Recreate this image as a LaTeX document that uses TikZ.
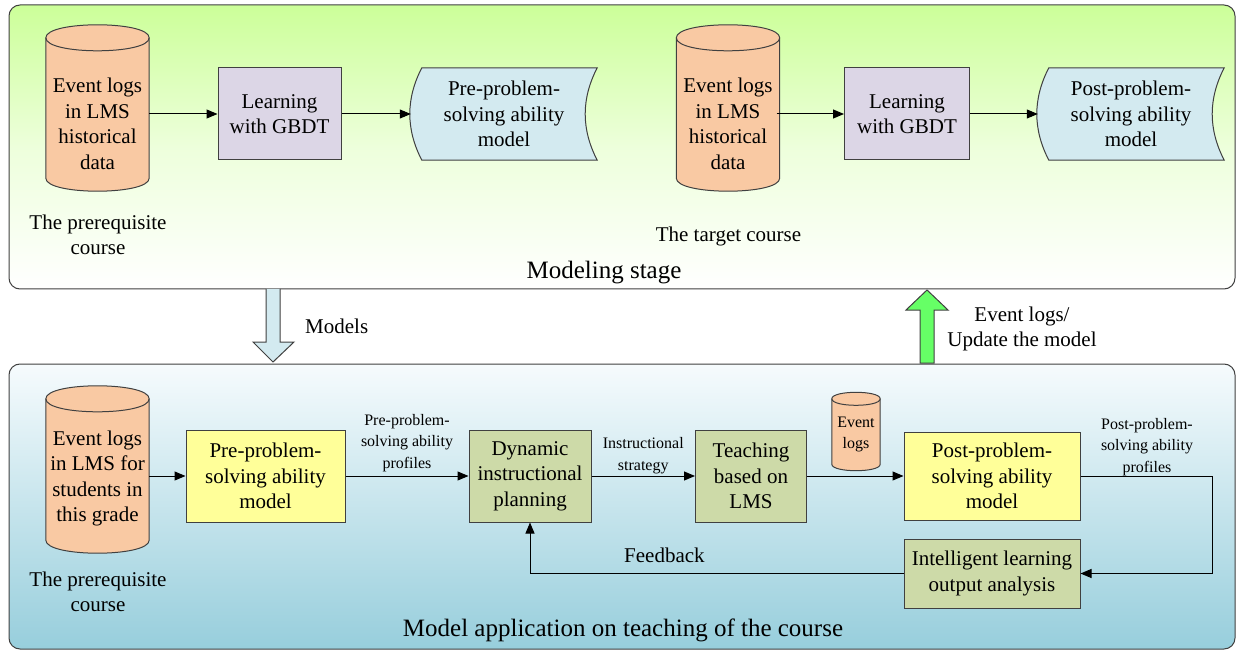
\documentclass[tikz,border=0pt]{standalone}
\usepackage{fontspec}
\setmainfont{Liberation Serif}
\usetikzlibrary{arrows.meta,calc}
\definecolor{stageGreen}{HTML}{CCFF99}
\definecolor{stageBlue}{HTML}{97CEDC}
\definecolor{stageBlueTop}{HTML}{F6FBFD}
\definecolor{logPeach}{HTML}{F9C9A3}
\definecolor{learnLilac}{HTML}{DCD6E6}
\definecolor{modelBlue}{HTML}{D3EAF0}
\definecolor{modelYellow}{HTML}{FFFF99}
\definecolor{stepGreen}{HTML}{CDDAA8}
\definecolor{modelsArrow}{HTML}{D3EAF0}
\definecolor{updateArrow}{HTML}{66FF66}
\definecolor{edge}{HTML}{404040}
\pgfdeclarelayer{panels}
\pgfdeclarelayer{shapes}
\pgfsetlayers{panels,shapes,main}
\tikzset{
  base/.style={font=\fontsize{21}{25.5}\selectfont, align=center, inner sep=0pt},
  small/.style={font=\fontsize{16}{21.5}\selectfont, align=center, inner sep=0pt},
  stagelabel/.style={font=\fontsize{25}{30}\selectfont, inner sep=0pt},
  plainbox/.style={base, draw=edge, line width=1pt},
  learnbox/.style={plainbox, fill=learnLilac},
  yellowbox/.style={plainbox, fill=modelYellow},
  greenbox/.style={plainbox, fill=stepGreen},
  textarea/.style={base},
  cylpath/.style={fill=logPeach, draw=edge, line width=1pt},
  storepath/.style={fill=modelBlue, draw=edge, line width=1pt},
  panel/.style={draw=edge, line width=1pt, rounded corners=11pt},
  flow/.style={-{Triangle[length=11pt,width=9pt]}, line width=1pt, draw=black},
  blockarrow/.style={draw=edge, line width=1pt},
}
% database cylinder behind a named node; #3 lifts the body above the text centre
\newcommand{\dbcylinder}[3]{%
  \begin{pgfonlayer}{shapes}
  \path[cylpath] ([yshift=#3]#1.north west) .. controls +(0,-#2*4/3) and +(0,-#2*4/3) .. ([yshift=#3]#1.north east)
    -- ([yshift=#3]#1.south east) .. controls +(0,#2*4/3) and +(0,#2*4/3) .. ([yshift=#3]#1.south west) -- cycle;
  \draw[edge, line width=1pt] ([yshift=#3]#1.north west) .. controls +(0,#2*4/3) and +(0,#2*4/3) .. ([yshift=#3]#1.north east);
  \end{pgfonlayer}}
% stored-data shape (both sides bowed to the left) behind a named node
\newcommand{\storedshape}[1]{%
  \begin{pgfonlayer}{shapes}
  \path[storepath] ([xshift=11pt]#1.north west) -- (#1.north east)
    .. controls +(-16,31) and +(-16,-31) .. (#1.south east)
    -- ([xshift=11pt]#1.south west)
    .. controls +(-16,-31) and +(-16,31) .. ([xshift=11pt]#1.north west) -- cycle;
  \end{pgfonlayer}}
\begin{document}
\begin{tikzpicture}[x=1pt,y=-1pt]
\useasboundingbox (0,0) rectangle (1239,652);

% ---------- stage panels ----------
\begin{pgfonlayer}{panels}
\shade[panel, top color=stageGreen, bottom color=white, middle color=stageGreen!35!white]
  (9,5) rectangle (1235,289);
\shade[panel, top color=stageBlueTop, bottom color=stageBlue]
  (9,364) rectangle (1235,649);
\end{pgfonlayer}
\node[stagelabel] (modeling) at (604,273) {Modeling stage};
\node[stagelabel] (application) at (623,630) {Model application on teaching of the course};

% ---------- modeling stage ----------
\node[textarea, minimum width=103pt, minimum height=140pt] (logA) at (97.5,124)
  {Event logs\\in LMS\\historical\\data};
\dbcylinder{logA}{13}{16pt}
\node[base] (preqA) at (98,235) {The prerequisite\\course};

\node[learnbox, minimum width=123pt, minimum height=92pt] (gbdtA) at (279.5,114) {Learning\\with GBDT};
\node[textarea, minimum width=186pt, minimum height=92pt] (preModel) at (504,114) {Pre-problem-\\solving ability\\model};
\storedshape{preModel}

\node[textarea, minimum width=103pt, minimum height=140pt] (logB) at (728,124)
  {Event logs\\in LMS\\historical\\data};
\dbcylinder{logB}{13}{16pt}
\node[base] (target) at (728.5,236) {The target course};

\node[learnbox, minimum width=125pt, minimum height=92pt] (gbdtB) at (907,114) {Learning\\with GBDT};
\node[textarea, minimum width=186pt, minimum height=92pt] (postModelA) at (1131,114) {Post-problem-\\solving ability\\model};
\storedshape{postModelA}

\draw[flow] (logA.east |- gbdtA.west) -- (gbdtA.west);
\draw[flow] (gbdtA.east) -- (preModel.west);
\draw[flow] ([xshift=-3pt]logB.east |- gbdtB.west) -- (gbdtB.west);
\draw[flow] (gbdtB.east) -- (postModelA.west);

% ---------- arrows between the stages ----------
\coordinate (modelsTip) at (273,362);
\path[blockarrow, fill=modelsArrow]
  (266,289) -- (266,342) -- (253,342) -- (modelsTip) -- (294,342) -- (280,342) -- (280,289);
\node[base, anchor=west] (modelsLbl) at (305,326) {Models};

\coordinate (updateTip) at (927,290);
\path[blockarrow, fill=updateArrow]
  (920,363) -- (920,310) -- (906,310) -- (updateTip) -- (948,310) -- (934,310) -- (934,363) -- cycle;
\node[base] (updateLbl) at (1022,329) {Event logs/\\Update the model};

% ---------- application stage ----------
\node[textarea, minimum width=103pt, minimum height=141pt] (logC) at (97.5,478.5)
  {Event logs\\in LMS for\\students in\\this grade};
\dbcylinder{logC}{13}{9pt}
\node[base] (preqC) at (98,592) {The prerequisite\\course};

\node[yellowbox, minimum width=159pt, minimum height=92pt] (preApply) at (265.5,476) {Pre-problem-\\solving ability\\model};
\node[greenbox, minimum width=122pt, minimum height=92pt] (planning) at (530,476) {Dynamic\\instructional\\planning};
\node[greenbox, minimum width=111pt, minimum height=92pt] (teaching) at (751,476) {Teaching\\based on\\LMS};
\node[textarea, minimum width=48pt, minimum height=65pt, font=\fontsize{16}{21}\selectfont] (logD) at (856,434.5)
  {Event\\logs};
\dbcylinder{logD}{6.5}{3pt}
\node[yellowbox, minimum width=176pt, minimum height=88pt] (postApply) at (992,476) {Post-problem-\\solving ability\\model};
\node[greenbox, minimum width=176pt, minimum height=69pt] (analysis) at (992,573.5) {Intelligent learning\\output analysis};

\draw[flow] (logC.east |- preApply.west) -- (preApply.west);
\draw[flow] (preApply.east) -- node[small, above=4pt] (preProf) {Pre-problem-\\solving ability\\profiles} (planning.west);
\draw[flow] (planning.east) -- node[small, above=2pt] (strategy) {Instructional\\strategy} (teaching.west);
\draw[flow] (teaching.east) -- (postApply.west);
\coordinate (loopCorner) at (1212,476);
\draw[flow] (postApply.east) -- (loopCorner) |- (analysis.east);
\node[small, anchor=south] (postProf) at (1147,476) {Post-problem-\\solving ability\\profiles};
\draw[flow] (analysis.west) -| node[base, pos=0.32, above=10pt] (feedback) {Feedback} (planning.south);
\end{tikzpicture}
\end{document}
